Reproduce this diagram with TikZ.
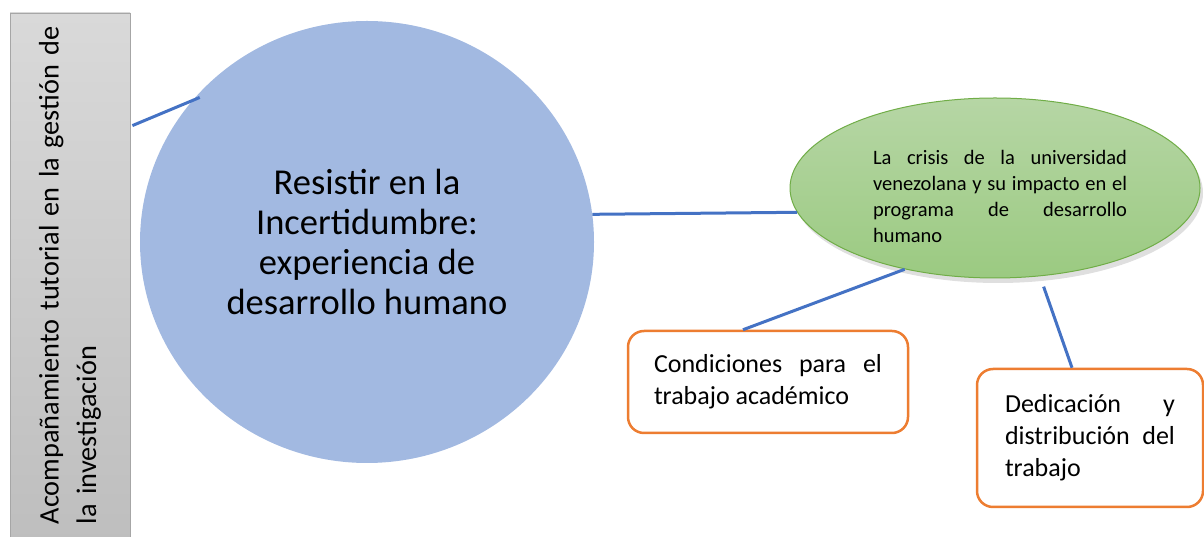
\documentclass[tikz,border=0pt]{standalone}
\usepackage{fontspec}
\setmainfont{Carlito}
\usetikzlibrary{shapes.geometric,shadows}
\definecolor{linkblue}{RGB}{68,114,196}
\definecolor{circblue}{RGB}{162,185,225}
\definecolor{boxorange}{RGB}{237,125,49}
\definecolor{greenline}{RGB}{112,173,71}
\definecolor{greentop}{RGB}{182,214,165}
\definecolor{greenbottom}{RGB}{155,202,129}
\definecolor{graytop}{RGB}{217,217,217}
\definecolor{graybottom}{RGB}{190,190,190}
\definecolor{grayline}{RGB}{166,166,166}
\hyphenpenalty=10000
\tolerance=10000
\newcommand{\tightspace}{\spaceskip=0.2em plus 1em minus 0.1em\relax}
\begin{document}
\begin{tikzpicture}[x=1pt, y=1pt,
	link/.style={line width=3pt, color=linkblue},
	marco/.style={draw=boxorange, line width=2.5pt, rounded corners=16pt, fill=white, inner sep=0pt, align=justify, font=\fontsize{26}{32}\selectfont}]
	\useasboundingbox (0,0) rectangle (1204,537);
	%%Rahmen links
		\node[draw=grayline, line width=0.8pt, top color=graytop, bottom color=graybottom, minimum width=120pt, minimum height=530pt, inner sep=0pt] (tutor) at (70,259) {};
		\node[rotate=90, anchor=west, text width=525pt, align=left, inner sep=0pt, font=\fontsize{28.3}{37.5}\selectfont] (tutortext) at ([yshift=19pt]tutor.south) {Acompañamiento tutorial en la gestión de la investigación};
	%%Kreis
		\node[ellipse, fill=circblue, minimum width=454pt, minimum height=442pt, inner sep=0pt, align=center, font=\fontsize{36.5}{40}\selectfont] (circ) at (367,295) {Resistir en la\\Incertidumbre:\\experiencia de\\desarrollo humano};
	%%Ellipse
		\node[ellipse, draw=greenline, line width=1pt, top color=greentop, bottom color=greenbottom, minimum width=410pt, minimum height=180pt, drop shadow={opacity=0.25, shadow xshift=3pt, shadow yshift=-5pt}] (crisis) at (995,349) {};
		\node[text width=254pt, align=justify, inner sep=0pt, font=\fontsize{20.5}{26}\selectfont] (crisistext) at ([shift={(5pt,-8.5pt)}]crisis.center) {\tightspace La crisis de la universidad\linebreak venezolana y su impacto en el\linebreak programa de desarrollo humano};
	%%Kaesten
		\node[marco, minimum width=280pt, minimum height=102pt, text width=228pt] (cond) at (768,155) {Condiciones para el trabajo académico};
		\node[marco, minimum width=226pt, minimum height=138pt, text width=170pt] (ded) at (1090,99) {Dedicación y distribución del trabajo};
	%%Linien
	\draw [link, shorten >=-8pt] ([shift={(2pt,-113pt)}]tutor.north east) -- (circ.141);
	\draw [link] (circ.7) -- (crisis.187);
	\draw [link] (crisis.222) -- ([xshift=-25pt]cond.north);
	\draw [link, shorten <=11pt] (crisis.297) -- ([xshift=-18pt]ded.north);
\end{tikzpicture}
\end{document}
